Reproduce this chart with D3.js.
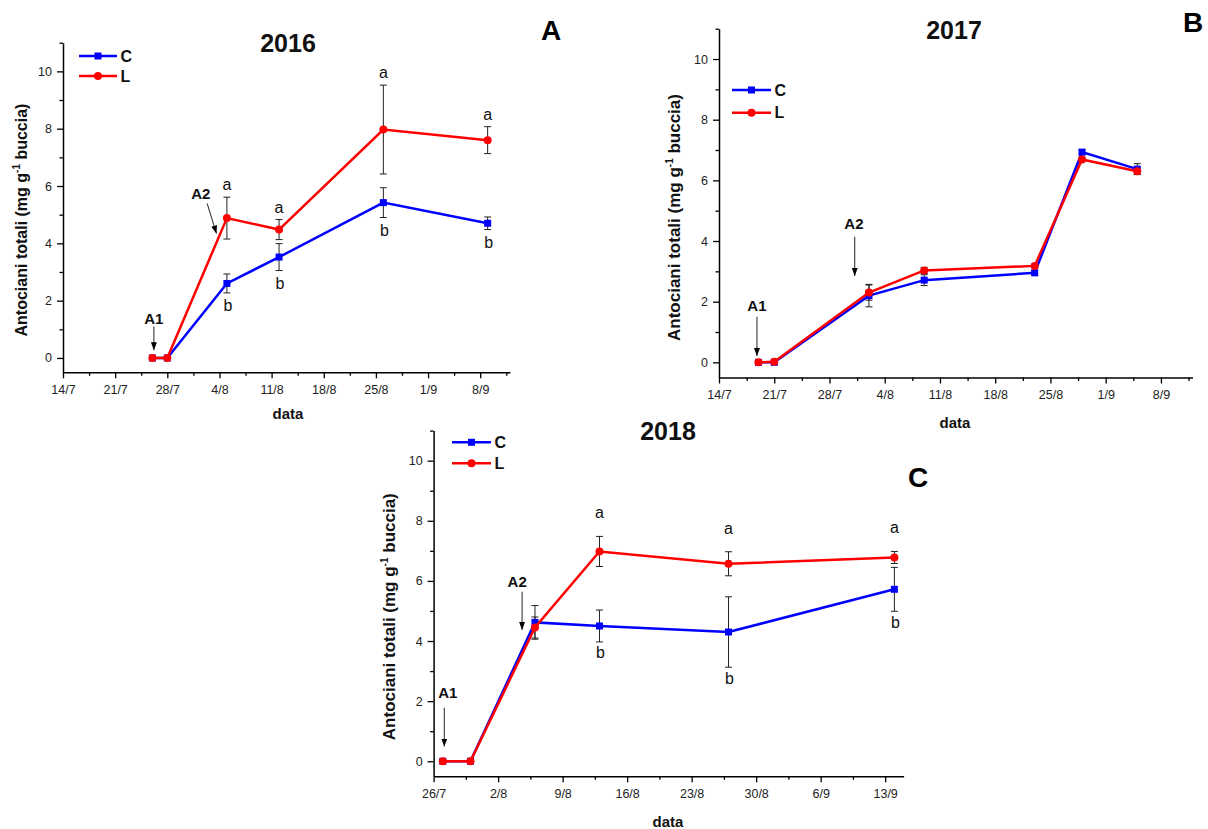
<!DOCTYPE html>
<html>
<head>
<meta charset="utf-8">
<script src="https://cdn.jsdelivr.net/npm/d3@7/dist/d3.min.js"></script>
<style>
body { margin: 0; background: #fff; }
text { font-family: Arial, "Liberation Sans", sans-serif; }
</style>
</head>
<body>
<svg id="chart" width="1208" height="829"></svg>
<script>
// ---- data (anthocyanins, mg/g skin) ----
var dates2016 = ["26/7", "28/7", "5/8", "12/8", "26/8", "9/9"];
var c2016     = [0, 0, 2.6, 3.52, 5.42, 4.7];
var l2016     = [0, 0, 4.88, 4.48, 7.97, 7.6];
var errC2016  = [0, 0, 0.33, 0.47, 0.52, 0.22];
var errL2016  = [0, 0, 0.73, 0.35, 1.55, 0.47];
var sigC2016  = ["", "", "b", "b", "b", "b"];
var sigL2016  = ["", "", "a", "a", "a", "a"];
var ticks2016 = ["14/7", "21/7", "28/7", "4/8", "11/8", "18/8", "25/8", "1/9", "8/9"];

var dates2017 = ["19/7", "21/7", "2/8", "9/8", "23/8", "29/8", "5/9"];
var c2017     = [0, 0, 2.2, 2.71, 2.95, 6.93, 6.37];
var l2017     = [0, 0.02, 2.3, 3.03, 3.18, 6.69, 6.3];
var errC2017  = [0.03, 0.03, 0.37, 0.18, 0.08, 0.08, 0.18];
var errL2017  = [0.03, 0.03, 0.25, 0.1, 0.06, 0.06, 0.1];
var ticks2017 = ["14/7", "21/7", "28/7", "4/8", "11/8", "18/8", "25/8", "1/9", "8/9"];

var dates2018 = ["27/7", "30/7", "6/8", "13/8", "27/8", "14/9"];
var c2018     = [0, 0, 4.62, 4.5, 4.3, 5.72];
var l2018     = [0, 0, 4.45, 6.98, 6.57, 6.78];
var errC2018  = [0, 0, 0.56, 0.53, 1.17, 0.73];
var errL2018  = [0, 0, 0.35, 0.5, 0.4, 0.2];
var sigC2018  = ["", "", "", "b", "b", "b"];
var sigL2018  = ["", "", "", "a", "a", "a"];
var ticks2018 = ["26/7", "2/8", "9/8", "16/8", "23/8", "30/8", "6/9", "13/9"];

var yMajor = [0, 2, 4, 6, 8, 10];
var yMinor = [1, 3, 5, 7, 9, 11];

var DAY = 864e5;
var BLUE = "#0000ff", RED = "#ff0000";

// layout of the three panels
var panels = [
  { year: 2016, tag: "A", dates: dates2016, c: c2016, l: l2016, errC: errC2016, errL: errL2016,
    sigC: sigC2016, sigL: sigL2016, ticks: ticks2016, end: "12/9",
    left: 63, right: 510, top: 42.7, bottom: 372.3,
    title: [288, 51.5], tagPos: [551, 40], ylab: [26.5, 220, 16], xlab: [288, 418.5],
    legend: [79, 117, 56, 76], aOff: 7, bOff: 18,
    notes: [ { t: "A1", tx: 12.2, tv: 1.17, a: [12.2, 1.1, 12.2, 0.27] },
             { t: "A2", tx: 18.5, tv: 5.56, a: [19.35, 5.39, 20.6, 4.34] } ] },
  { year: 2017, tag: "B", dates: dates2017, c: c2017, l: l2017, errC: errC2017, errL: errL2017,
    sigC: null, sigL: null, ticks: ticks2017, end: "12/9",
    left: 719, right: 1192.5, top: 28.7, bottom: 377.5,
    title: [954, 38.5], tagPos: [1193, 31.5], ylab: [679.5, 217.5, 17], xlab: [955, 428],
    legend: [732, 771, 90, 112.7],
    notes: [ { t: "A1", tx: 4.81, tv: 1.69, a: [4.81, 1.5, 4.81, 0.21] },
             { t: "A2", tx: 17.1, tv: 4.39, a: [17.2, 4.14, 17.2, 2.85] } ] },
  { year: 2018, tag: "C", dates: dates2018, c: c2018, l: l2018, errC: errC2018, errL: errL2018,
    sigC: sigC2018, sigL: sigL2018, ticks: ticks2018, end: "15/9",
    left: 433.6, right: 903.6, top: 430.6, bottom: 776.3,
    title: [668, 440], tagPos: [918, 486.5], ylab: [395, 616.7, 17], xlab: [668, 827],
    legend: [452, 491, 442.3, 463.3], aOff: 18, bOff: 16.5,
    notes: [ { t: "A1", tx: 1.55, tv: 2.1, a: [1.16, 1.78, 1.16, 0.49] },
             { t: "A2", tx: 9.07, tv: 5.81, a: [9.6, 5.64, 9.6, 4.37] } ] }
];

var svg = d3.select("#chart");

svg.append("defs").append("marker")
  .attr("id", "head")
  .attr("viewBox", "0 0 8 6")
  .attr("refX", 8).attr("refY", 3)
  .attr("markerWidth", 8).attr("markerHeight", 6)
  .attr("markerUnits", "userSpaceOnUse")
  .attr("orient", "auto")
  .append("path").attr("d", "M0,0L8,3L0,6Z").attr("fill", "#000");

function parseD(s, yr) {
  var p = s.split("/");
  return new Date(yr, +p[1] - 1, +p[0]);
}

function styleAxis(sel) {
  sel.select(".domain").attr("stroke", "#000").attr("stroke-width", 1.5);
  sel.selectAll(".tick line").attr("stroke", "#000").attr("stroke-width", 1.3);
  sel.selectAll(".tick text").attr("fill", "#222").style("font-size", "12.5px")
    .style("font-family", "Arial, 'Liberation Sans', sans-serif");
}

panels.forEach(function(p) {
  var t0 = parseD(p.ticks[0], p.year), t1 = parseD(p.end, p.year);
  var x = d3.scaleTime().domain([t0, t1]).range([p.left, p.right]);
  var y = d3.scaleLinear().domain([-0.5, 11]).range([p.bottom, p.top]);
  var dayX = function(d) { return x(new Date(+t0 + d * DAY)); };
  var g = svg.append("g");

  var major = p.ticks.map(function(s) { return parseD(s, p.year); });
  var minor = major.map(function(d) { return new Date(+d + 3.5 * DAY); })
    .filter(function(d) { return d < t1; });

  // x axis
  g.append("g").attr("transform", "translate(0," + p.bottom + ")")
    .call(d3.axisBottom(x).tickValues(minor).tickFormat("").tickSize(3.5).tickSizeOuter(0))
    .call(function(s) { s.select(".domain").remove(); })
    .call(styleAxis);
  g.append("g").attr("transform", "translate(0," + p.bottom + ")")
    .call(d3.axisBottom(x).tickValues(major)
      .tickFormat(function(d, i) { return p.ticks[i]; })
      .tickSize(6).tickSizeOuter(0).tickPadding(7))
    .call(styleAxis);

  // y axis
  g.append("g").attr("transform", "translate(" + p.left + ",0)")
    .call(d3.axisLeft(y).tickValues(yMinor).tickFormat("").tickSize(3.5).tickSizeOuter(0))
    .call(function(s) { s.select(".domain").remove(); })
    .call(styleAxis);
  g.append("g").attr("transform", "translate(" + p.left + ",0)")
    .call(d3.axisLeft(y).tickValues(yMajor).tickSize(6).tickSizeOuter(0).tickPadding(5))
    .call(styleAxis);

  // series records
  var rows = p.dates.map(function(s, i) {
    return { date: parseD(s, p.year), c: p.c[i], l: p.l[i], ec: p.errC[i], el: p.errL[i],
             sc: p.sigC ? p.sigC[i] : "", sl: p.sigL ? p.sigL[i] : "" };
  });

  // error bars
  function errBars(key, ekey) {
    var eb = g.append("g").attr("stroke", "#222").attr("stroke-width", 1).attr("fill", "none");
    rows.filter(function(r) { return r[ekey] > 0; }).forEach(function(r) {
      var cx = x(r.date), y1 = y(r[key] + r[ekey]), y2 = y(r[key] - r[ekey]);
      eb.append("line").attr("x1", cx).attr("x2", cx).attr("y1", y1).attr("y2", y2);
      eb.append("line").attr("x1", cx - 3.5).attr("x2", cx + 3.5).attr("y1", y1).attr("y2", y1);
      eb.append("line").attr("x1", cx - 3.5).attr("x2", cx + 3.5).attr("y1", y2).attr("y2", y2);
    });
  }
  errBars("c", "ec");
  errBars("l", "el");

  // C series (blue squares)
  var lineC = d3.line().x(function(r) { return x(r.date); }).y(function(r) { return y(r.c); });
  g.append("path").datum(rows).attr("d", lineC)
    .attr("fill", "none").attr("stroke", BLUE).attr("stroke-width", 2.5);
  g.selectAll("rect.c").data(rows).enter().append("rect")
    .attr("x", function(r) { return x(r.date) - 3.5; })
    .attr("y", function(r) { return y(r.c) - 3.5; })
    .attr("width", 7).attr("height", 7).attr("fill", BLUE);

  // L series (red circles)
  var lineL = d3.line().x(function(r) { return x(r.date); }).y(function(r) { return y(r.l); });
  g.append("path").datum(rows).attr("d", lineL)
    .attr("fill", "none").attr("stroke", RED).attr("stroke-width", 2.5);
  g.selectAll("circle.l").data(rows).enter().append("circle")
    .attr("cx", function(r) { return x(r.date); })
    .attr("cy", function(r) { return y(r.l); })
    .attr("r", 4).attr("fill", RED);

  // significance letters
  rows.forEach(function(r) {
    if (r.sl) g.append("text").attr("x", x(r.date)).attr("y", y(r.l + r.el) - p.aOff)
      .attr("text-anchor", "middle").style("font-size", "16px").attr("fill", "#111").text(r.sl);
    if (r.sc) g.append("text").attr("x", x(r.date) + 1).attr("y", y(r.c - r.ec) + p.bOff)
      .attr("text-anchor", "middle").style("font-size", "16px").attr("fill", "#111").text(r.sc);
  });

  // A1 / A2 arrows
  p.notes.forEach(function(n) {
    g.append("text").attr("x", dayX(n.tx)).attr("y", y(n.tv))
      .attr("text-anchor", "middle").style("font-size", "15px").style("font-weight", "bold")
      .attr("fill", "#111").text(n.t);
    g.append("line")
      .attr("x1", dayX(n.a[0])).attr("y1", y(n.a[1]))
      .attr("x2", dayX(n.a[2])).attr("y2", y(n.a[3]))
      .attr("stroke", "#222").attr("stroke-width", 1)
      .attr("marker-end", "url(#head)");
  });

  // legend
  var lg = p.legend;
  [["C", BLUE, lg[2]], ["L", RED, lg[3]]].forEach(function(e) {
    g.append("line").attr("x1", lg[0]).attr("x2", lg[1]).attr("y1", e[2]).attr("y2", e[2])
      .attr("stroke", e[1]).attr("stroke-width", 2.5);
    var mx = (lg[0] + lg[1]) / 2;
    if (e[0] === "C") g.append("rect").attr("x", mx - 3.5).attr("y", e[2] - 3.5)
      .attr("width", 7).attr("height", 7).attr("fill", e[1]);
    else g.append("circle").attr("cx", mx).attr("cy", e[2]).attr("r", 4).attr("fill", e[1]);
    g.append("text").attr("x", lg[1] + 3.5).attr("y", e[2] + 5.5)
      .style("font-size", "16px").style("font-weight", "bold").attr("fill", "#111").text(e[0]);
  });

  // titles
  g.append("text").attr("x", p.title[0]).attr("y", p.title[1]).attr("text-anchor", "middle")
    .style("font-size", "25px").style("font-weight", "bold").attr("fill", "#111").text(p.year);
  g.append("text").attr("x", p.tagPos[0]).attr("y", p.tagPos[1]).attr("text-anchor", "middle")
    .style("font-size", "28px").style("font-weight", "bold").attr("fill", "#000").text(p.tag);

  // axis titles
  g.append("text").attr("x", p.xlab[0]).attr("y", p.xlab[1]).attr("text-anchor", "middle")
    .style("font-size", "15px").style("font-weight", "bold").attr("fill", "#111").text("data");
  var yl = g.append("text")
    .attr("transform", "translate(" + p.ylab[0] + "," + p.ylab[1] + ") rotate(-90)")
    .attr("text-anchor", "middle")
    .style("font-size", p.ylab[2] + "px").style("font-weight", "bold").attr("fill", "#111");
  yl.append("tspan").text("Antociani totali (mg g");
  yl.append("tspan").attr("dy", -7).style("font-size", "10px").text("-1");
  yl.append("tspan").attr("dy", 7).text(" buccia)");
});
</script>
</body>
</html>
